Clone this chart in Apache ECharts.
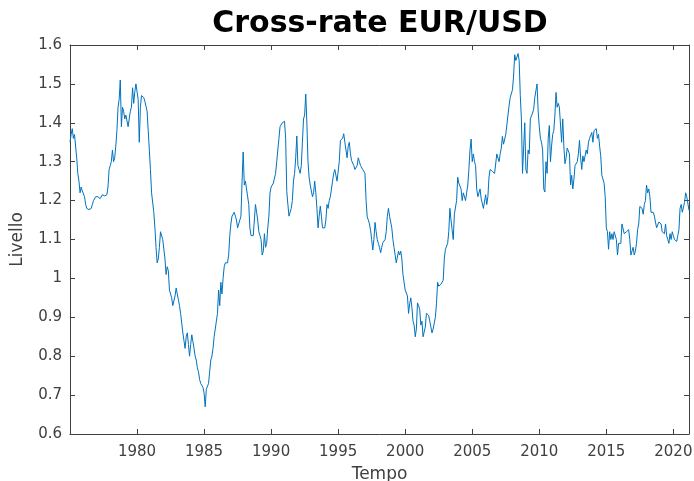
<!DOCTYPE html>
<html>
<head>
<meta charset="utf-8">
<title>Cross-rate EUR/USD</title>
<script src="https://cdn.jsdelivr.net/npm/echarts@6/dist/echarts.min.js"></script>
<style>
  html, body { margin: 0; padding: 0; background: #fff; }
  #chart { width: 694px; height: 481px; }
</style>
</head>
<body>
<div id="chart"></div>
<script>
// dati mensili, primo valore = gennaio 1975
var startYear = 1975;
var yearTicks = [1980, 1985, 1990, 1995, 2000, 2005, 2010, 2015, 2020];

var rates1975s = [
  1.35, 1.37, 1.385, 1.36, 1.37, 1.365, 1.31, 1.27, 1.25, 1.22, 1.235, 1.225,
  1.22, 1.21, 1.19, 1.18, 1.175, 1.177, 1.178, 1.18, 1.19, 1.20, 1.205, 1.21,
  1.205, 1.21, 1.215, 1.205, 1.21, 1.215, 1.21, 1.212, 1.208, 1.215, 1.235, 1.28,
  1.29, 1.30, 1.33, 1.30, 1.31, 1.34, 1.38, 1.44, 1.46, 1.51, 1.39, 1.44,
  1.43, 1.41, 1.42, 1.405, 1.39, 1.41, 1.43, 1.44, 1.49, 1.45, 1.48, 1.50
];
var rates1980s = [
  1.505, 1.46, 1.35, 1.44, 1.47, 1.47, 1.465, 1.455, 1.45, 1.43, 1.38, 1.33,
  1.28, 1.22, 1.22, 1.17, 1.13, 1.08, 1.04, 1.05, 1.08, 1.12, 1.125, 1.10,
  1.10, 1.05, 1.01, 1.03, 1.02, 0.97, 0.97, 0.95, 0.93, 0.925, 0.955, 0.975,
  0.97, 0.945, 0.93, 0.91, 0.885, 0.86, 0.84, 0.82, 0.85, 0.86, 0.83, 0.80,
  0.83, 0.855, 0.85, 0.82, 0.80, 0.79, 0.77, 0.76, 0.74, 0.73, 0.735, 0.72,
  0.705, 0.67, 0.715, 0.72, 0.73, 0.76, 0.79, 0.80, 0.82, 0.85, 0.87, 0.89,
  0.91, 0.97, 0.93, 0.99, 0.96, 1.00, 1.03, 1.04, 1.045, 1.04, 1.06, 1.11,
  1.14, 1.16, 1.165, 1.17, 1.16, 1.15, 1.13, 1.14, 1.15, 1.16, 1.25, 1.325,
  1.24, 1.25, 1.25, 1.21, 1.19, 1.13, 1.11, 1.105, 1.11, 1.15, 1.19, 1.17,
  1.15, 1.12, 1.11, 1.10, 1.06, 1.07, 1.115, 1.08, 1.09, 1.13, 1.16, 1.22
];
var rates1990s = [
  1.235, 1.24, 1.245, 1.25, 1.27, 1.30, 1.33, 1.36, 1.39, 1.39, 1.40, 1.40,
  1.404, 1.36, 1.224, 1.19, 1.16, 1.165, 1.18, 1.20, 1.25, 1.27, 1.31, 1.366,
  1.29, 1.28, 1.27, 1.29, 1.35, 1.41, 1.42, 1.474, 1.40, 1.30, 1.26, 1.24,
  1.235, 1.21, 1.22, 1.25, 1.22, 1.18, 1.13, 1.16, 1.186, 1.16, 1.13, 1.125,
  1.13, 1.15, 1.19, 1.18, 1.20, 1.21, 1.23, 1.25, 1.27, 1.28, 1.285, 1.25,
  1.245, 1.30, 1.355, 1.35, 1.36, 1.372, 1.35, 1.33, 1.31, 1.34, 1.35, 1.32,
  1.303, 1.30, 1.29, 1.28, 1.278, 1.29, 1.31, 1.30, 1.29, 1.286, 1.28, 1.275,
  1.27, 1.20, 1.158, 1.15, 1.14, 1.124, 1.10, 1.073, 1.10, 1.144, 1.12, 1.10,
  1.09, 1.08, 1.066, 1.08, 1.092, 1.095, 1.10, 1.12, 1.16, 1.18, 1.16, 1.165,
  1.13, 1.10, 1.08, 1.06, 1.04, 1.035, 1.07, 1.06, 1.07, 1.05, 1.01, 1.005
];
var rates2000s = [
  0.97, 0.965, 0.955, 0.91, 0.935, 0.95, 0.925, 0.89, 0.88, 0.85, 0.87, 0.937,
  0.93, 0.92, 0.88, 0.89, 0.85, 0.85, 0.875, 0.91, 0.91, 0.905, 0.89, 0.885,
  0.86, 0.87, 0.87, 0.90, 0.935, 0.99, 0.98, 0.98, 0.985, 0.99, 0.995, 1.05,
  1.075, 1.08, 1.09, 1.12, 1.18, 1.15, 1.125, 1.10, 1.165, 1.16, 1.20, 1.26,
  1.245, 1.25, 1.23, 1.20, 1.22, 1.215, 1.20, 1.22, 1.24, 1.28, 1.33, 1.358,
  1.30, 1.32, 1.30, 1.29, 1.23, 1.21, 1.21, 1.23, 1.205, 1.20, 1.18, 1.185,
  1.215, 1.19, 1.21, 1.26, 1.28, 1.28, 1.275, 1.28, 1.27, 1.275, 1.32, 1.32,
  1.30, 1.32, 1.335, 1.365, 1.345, 1.35, 1.37, 1.365, 1.42, 1.445, 1.465, 1.46,
  1.485, 1.52, 1.575, 1.56, 1.555, 1.578, 1.56, 1.47, 1.41, 1.27, 1.27, 1.40,
  1.28, 1.27, 1.33, 1.32, 1.41, 1.41, 1.425, 1.435, 1.465, 1.47, 1.50, 1.43
];
var rates2010s = [
  1.39, 1.36, 1.35, 1.33, 1.23, 1.222, 1.30, 1.27, 1.36, 1.393, 1.30, 1.34,
  1.37, 1.38, 1.42, 1.478, 1.44, 1.45, 1.44, 1.44, 1.35, 1.41, 1.34, 1.295,
  1.31, 1.335, 1.335, 1.32, 1.24, 1.265, 1.23, 1.255, 1.29, 1.295, 1.30, 1.32,
  1.355, 1.31, 1.28, 1.315, 1.30, 1.30, 1.33, 1.32, 1.35, 1.36, 1.36, 1.375,
  1.35, 1.38, 1.38, 1.385, 1.36, 1.37, 1.34, 1.315, 1.265, 1.255, 1.245, 1.21,
  1.13, 1.12, 1.075, 1.12, 1.10, 1.115, 1.10, 1.12, 1.115, 1.10, 1.06, 1.09,
  1.085, 1.09, 1.14, 1.145, 1.115, 1.11, 1.12, 1.115, 1.125, 1.10, 1.06, 1.055,
  1.08, 1.06, 1.07, 1.09, 1.125, 1.14, 1.185, 1.19, 1.18, 1.165, 1.19, 1.20,
  1.24, 1.22, 1.23, 1.21, 1.17, 1.17, 1.17, 1.16, 1.16, 1.13, 1.135, 1.145,
  1.145, 1.14, 1.12, 1.12, 1.115, 1.14, 1.11, 1.10, 1.09, 1.115, 1.10, 1.12
];
var rates2020s = [
  1.11, 1.10, 1.10, 1.095, 1.11, 1.125, 1.18, 1.19, 1.17, 1.165, 1.195, 1.22,
  1.21, 1.205, 1.175
];

var rates = [].concat(rates1975s, rates1980s, rates1990s, rates2000s, rates2010s, rates2020s);
var serie = rates.map(function(v, i) {
  return [startYear + i / 12, v];
});
var lastX = startYear + (rates.length - 1) / 12;

var axisCol = '#404040';
var font = '"DejaVu Sans", Verdana, sans-serif';

var chart = echarts.init(document.getElementById('chart'), null, { renderer: 'canvas' });

var xBase = {
  type: 'value',
  min: startYear,
  max: lastX,
  interval: 5,
  splitLine: { show: false },
  axisLine: { show: true, onZero: false, lineStyle: { color: axisCol, width: 1 } },
  axisTick: { show: true, inside: true, length: 5, lineStyle: { color: axisCol } }
};
var yBase = {
  type: 'value',
  min: 0.6,
  max: 1.6,
  interval: 0.1,
  splitLine: { show: false },
  axisLine: { show: true, onZero: false, lineStyle: { color: axisCol, width: 1 } },
  axisTick: { show: true, inside: true, length: 5, lineStyle: { color: axisCol } }
};

var option = {
  animation: false,
  backgroundColor: '#ffffff',
  title: {
    text: 'Cross-rate EUR/USD',
    left: 375,
    textAlign: 'center',
    top: 4,
    textStyle: { fontFamily: font, fontSize: 30, fontWeight: 'bold', color: '#000' }
  },
  grid: { left: 70, right: 5, top: 45, bottom: 47, containLabel: false, outerBoundsMode: 'none' },
  xAxis: [
    Object.assign({}, xBase, {
      position: 'bottom',
      name: 'Tempo',
      nameLocation: 'middle',
      nameGap: 32,
      nameTextStyle: { fontFamily: font, fontSize: 17, color: axisCol },
      axisLabel: {
        show: true,
        margin: 11,
        fontFamily: font,
        fontSize: 15,
        color: axisCol,
        showMinLabel: false,
        showMaxLabel: false,
        formatter: function(v) {
          return yearTicks.indexOf(Math.round(v)) >= 0 ? String(Math.round(v)) : '';
        }
      }
    }),
    Object.assign({}, xBase, { position: 'top', axisLabel: { show: false } })
  ],
  yAxis: [
    Object.assign({}, yBase, {
      position: 'left',
      name: 'Livello',
      nameLocation: 'middle',
      nameGap: 44,
      nameRotate: 90,
      nameTextStyle: { fontFamily: font, fontSize: 17, color: axisCol },
      axisLabel: { show: true, margin: 8, fontFamily: font, fontSize: 15, color: axisCol }
    }),
    Object.assign({}, yBase, { position: 'right', axisLabel: { show: false } })
  ],
  series: [
    {
      type: 'line',
      xAxisIndex: 0,
      yAxisIndex: 0,
      data: serie,
      showSymbol: false,
      symbol: 'none',
      lineStyle: { color: '#0072BD', width: 1 },
      emphasis: { disabled: true }
    }
  ]
};

chart.setOption(option);
window.onresize = function() {
  chart.resize();
};
</script>
</body>
</html>
